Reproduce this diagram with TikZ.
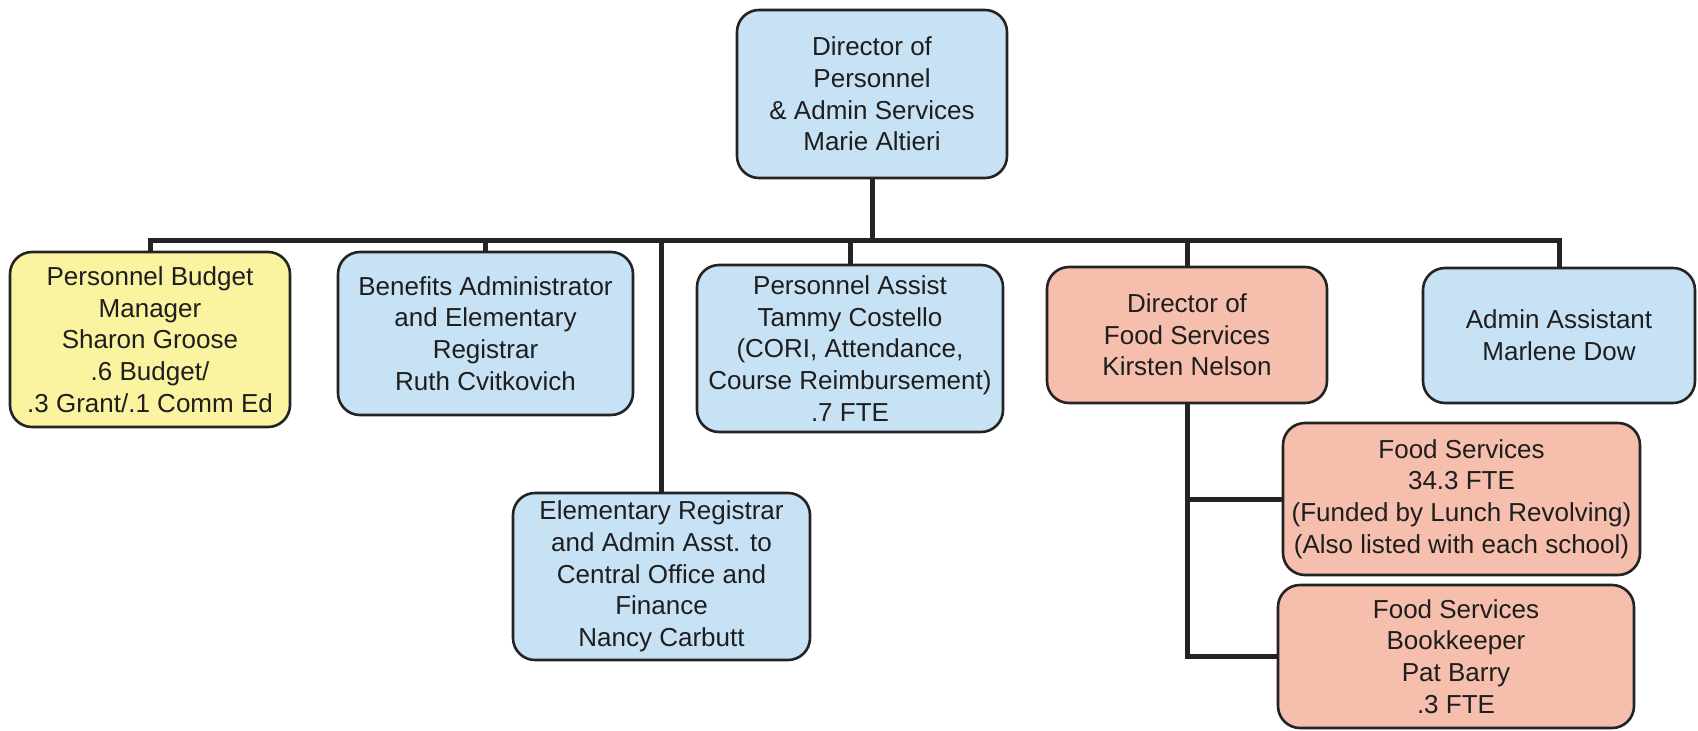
\documentclass[tikz,border=0pt]{standalone}
\usepackage{fontspec}
\setmainfont{Liberation Sans}
\begin{document}
\definecolor{boxblue}{RGB}{200,226,245}
\definecolor{boxyellow}{RGB}{250,244,160}
\definecolor{boxsalmon}{RGB}{246,190,172}
\definecolor{edge}{RGB}{35,35,35}
\definecolor{ink}{RGB}{30,30,30}
\begin{tikzpicture}[x=1pt,y=-1pt,
  orgbox/.style={draw=edge, line width=2.6pt, rounded corners=22pt,
    align=center, inner sep=0pt, text=ink,
    font=\fontsize{26}{31.7}\selectfont},
  bluebox/.style={orgbox, fill=boxblue},
  yellowbox/.style={orgbox, fill=boxyellow},
  salmonbox/.style={orgbox, fill=boxsalmon},
  link/.style={draw=edge, line width=5pt, line join=miter}]
\useasboundingbox (0,0) rectangle (1698,731);
\fill[white] (0,0) rectangle (1698,731);

% boxes
\node[bluebox, minimum width=270pt, minimum height=168pt] (dir) at (872,94)
  {Director of\\Personnel\\\& Admin Services\\Marie Altieri};
\node[yellowbox, minimum width=280pt, minimum height=175pt] (yel) at (150,339.5)
  {Personnel Budget\\Manager\\Sharon Groose\\.6 Budget/\\.3 Grant/.1 Comm Ed};
\node[bluebox, minimum width=295pt, minimum height=163pt] (ben) at (485.5,333.5)
  {Benefits Administrator\\and Elementary\\Registrar\\Ruth Cvitkovich};
\node[bluebox, minimum width=297pt, minimum height=167pt] (elem) at (661.5,576.5)
  {Elementary Registrar\\and Admin Asst. to\\Central Office and\\Finance\\Nancy Carbutt};
\node[bluebox, minimum width=306pt, minimum height=167pt] (pa) at (850,348.5)
  {Personnel Assist\\Tammy Costello\\(CORI, Attendance,\\Course Reimbursement)\\.7 FTE};
\node[salmonbox, minimum width=280pt, minimum height=136pt] (dfs) at (1187,335)
  {Director of\\Food Services\\Kirsten Nelson};
\node[bluebox, minimum width=272pt, minimum height=135pt] (adm) at (1559,335.5)
  {Admin Assistant\\Marlene Dow};
\node[salmonbox, minimum width=357pt, minimum height=152pt] (fs) at (1461.5,499)
  {Food Services\\34.3 FTE\\(Funded by Lunch Revolving)\\(Also listed with each school)};
\node[salmonbox, minimum width=356pt, minimum height=143pt] (bk) at (1456,656.5)
  {Food Services\\Bookkeeper\\Pat Barry\\.3 FTE};

% connectors: one bus line below the director, branches down to each box
\coordinate (bus) at (0,240);
\path[link] (dir.south) -- (dir.south |- bus);
\path[link] (yel.north) -- (yel.north |- bus) -- (adm.north |- bus) -- (adm.north);
\path[link] (ben.north) -- (ben.north |- bus);
\path[link] (elem.north) -- (elem.north |- bus);
\path[link] (pa.north) -- (pa.north |- bus);
\path[link] (dfs.north) -- (dfs.north |- bus);
\path[link] (dfs.south) -- (dfs.south |- bk.west) -- (bk.west);
\path[link] (fs.west) -- (fs.west -| dfs.south);
\end{tikzpicture}
\end{document}
